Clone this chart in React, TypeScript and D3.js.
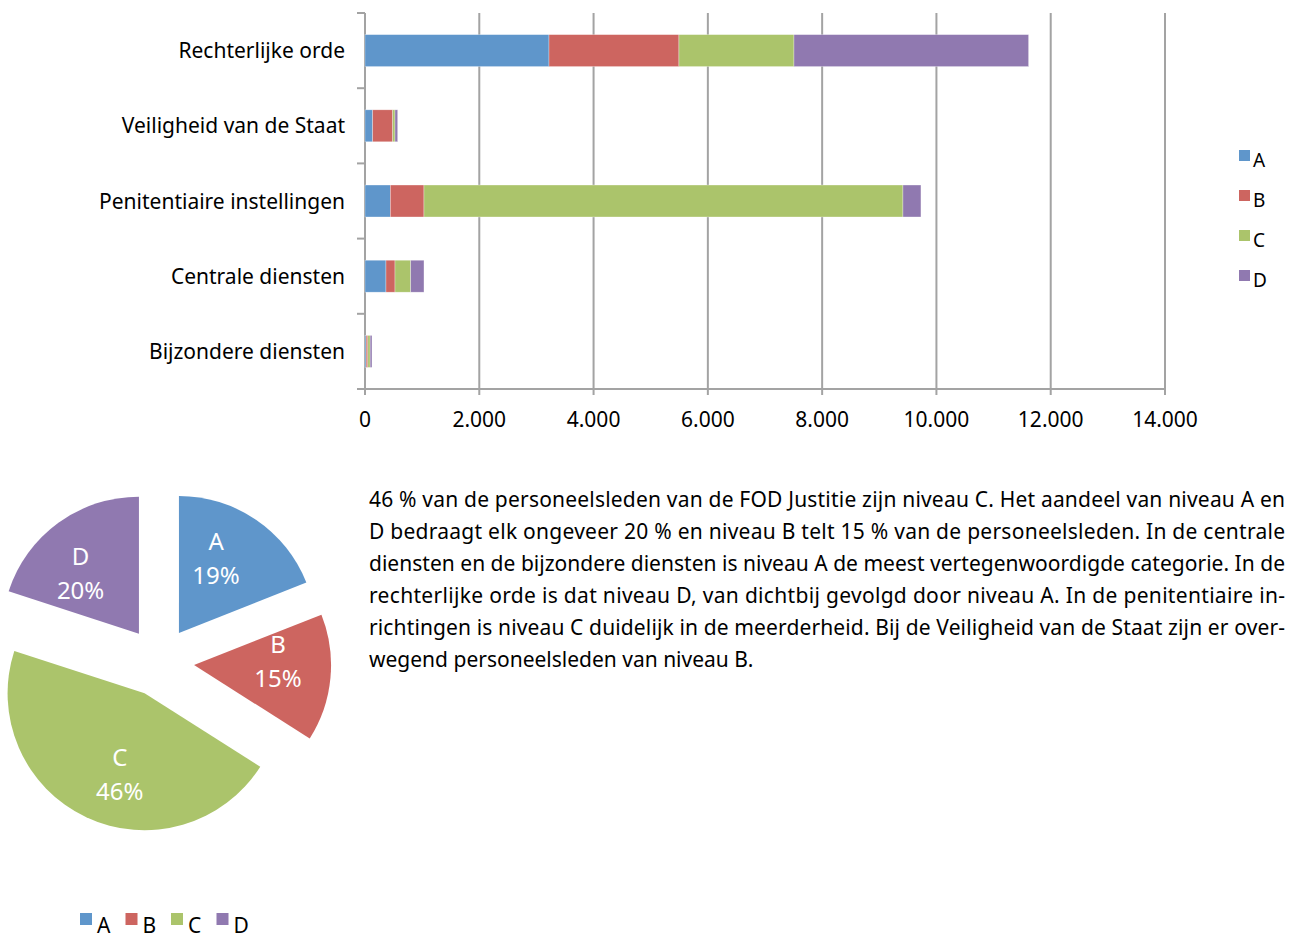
import React from "react";
import * as d3 from "d3";

const categories = [
  "Rechterlijke orde",
  "Veiligheid van de Staat",
  "Penitentiaire instellingen",
  "Centrale diensten",
  "Bijzondere diensten",
];
const levels = ["A", "B", "C", "D"];
const seriesA = [3220, 135, 443, 367, 20];
const seriesB = [2274, 350, 589, 158, 30];
const seriesC = [2013, 40, 8382, 275, 40];
const seriesD = [4106, 47, 315, 232, 32];
const xTicks = [0, 2000, 4000, 6000, 8000, 10000, 12000, 14000];
const pieValues = [19, 15, 46, 20];
const colors = ["#5f96cb", "#cd6560", "#abc46b", "#9079b0"];
const paragraph = [
  "46 % van de personeelsleden van de FOD Justitie zijn niveau C. Het aandeel van niveau A en",
  "D bedraagt elk ongeveer 20 % en niveau B telt 15 % van de personeelsleden. In de centrale",
  "diensten en de bijzondere diensten is niveau A de meest vertegenwoordigde categorie. In de",
  "rechterlijke orde is dat niveau D, van dichtbij gevolgd door niveau A. In de penitentiaire in-",
  "richtingen is niveau C duidelijk in de meerderheid. Bij de Veiligheid van de Staat zijn er over-",
  "wegend personeelsleden van niveau B.",
];

const FONT = "'Noto Sans', 'Open Sans', sans-serif";
const W = 1298;
const H = 938;

export default function App() {
  const x = d3.scaleLinear().domain([0, 14000]).range([365, 1165]);
  const y = d3
    .scaleBand<string>()
    .domain(categories)
    .range([13, 389])
    .paddingInner(0.575)
    .paddingOuter(0.2875);

  const rows = categories.map((c, i) => ({
    cat: c,
    A: seriesA[i],
    B: seriesB[i],
    C: seriesC[i],
    D: seriesD[i],
  }));
  const stacked = d3.stack<any>().keys(levels)(rows);

  const fmt = (v: number) => d3.format(",")(v).replace(/,/g, ".");

  // pie
  const cx = 159.4;
  const cy = 661.8;
  const R = 137;
  const explode = 34.8;
  const pie = d3
    .pie<number>()
    .sort(null)
    .startAngle(0)
    .endAngle(2 * Math.PI)(pieValues);
  const arc = d3.arc<any>().innerRadius(0).outerRadius(R);

  const tickYs = d3.range(categories.length + 1).map((i) => 13 + (i * 376) / categories.length);

  return (
    <svg
      width={W}
      height={H}
      style={{ position: "absolute", left: 0, top: 0, background: "#fff" }}
      fontFamily={FONT}
    >
      {/* gridlines */}
      {xTicks.map((t) => (
        <line
          key={"g" + t}
          x1={x(t)}
          x2={x(t)}
          y1={13}
          y2={395}
          stroke="#a3a3a3"
          strokeWidth={2}
        />
      ))}
      {/* x axis line */}
      <line x1={357} x2={1166} y1={389} y2={389} stroke="#a3a3a3" strokeWidth={2} />
      {/* y ticks */}
      {tickYs.map((ty, i) => (
        <line key={"yt" + i} x1={357} x2={365} y1={ty} y2={ty} stroke="#a3a3a3" strokeWidth={2} />
      ))}
      {/* bars */}
      {stacked.map((s, si) =>
        s.map((d: any, i: number) => (
          <rect
            key={si + "-" + i}
            x={x(d[0])}
            y={y(categories[i])}
            width={Math.max(0, x(d[1]) - x(d[0]))}
            height={y.bandwidth()}
            fill={colors[si]}
            stroke="#ffffff"
            strokeOpacity={0.5}
            strokeWidth={0.6}
          />
        ))
      )}
      {/* category labels */}
      {categories.map((c) => (
        <text
          key={c}
          x={345}
          y={(y(c) as number) + y.bandwidth() / 2}
          dy="0.36em"
          textAnchor="end"
          fontSize={21}
          fill="#000"
        >
          {c}
        </text>
      ))}
      {/* x tick labels */}
      {xTicks.map((t) => (
        <text key={"xl" + t} x={x(t)} y={427} textAnchor="middle" fontSize={21} fill="#000">
          {fmt(t)}
        </text>
      ))}
      {/* right legend */}
      {levels.map((l, i) => (
        <g key={"lg" + l} transform={`translate(1239, ${150 + i * 40})`}>
          <rect x={0} y={0} width={11} height={11} fill={colors[i]} />
          <text x={14} y={17} fontSize={19} fill="#000">
            {l}
          </text>
        </g>
      ))}

      {/* pie */}
      {pie.map((p, i) => {
        const mid = (p.startAngle + p.endAngle) / 2;
        const ox = cx + explode * Math.sin(mid);
        const oy = cy - explode * Math.cos(mid);
        const la = mid - (8 * Math.PI) / 180;
        const lr = 84;
        const lx = ox + lr * Math.sin(la);
        const ly = oy - lr * Math.cos(la);
        return (
          <g key={"p" + i}>
            <path d={arc(p) as string} transform={`translate(${ox},${oy})`} fill={colors[i]} />
            <text x={lx} y={ly - 8} textAnchor="middle" fontSize={24} fill="#fff">
              {levels[i]}
            </text>
            <text x={lx} y={ly + 26} textAnchor="middle" fontSize={24} fill="#fff">
              {Math.round(p.data) + "%"}
            </text>
          </g>
        );
      })}
      {/* pie legend */}
      {levels.map((l, i) => (
        <g key={"pl" + l} transform={`translate(${80 + i * 45.5}, 913)`}>
          <rect x={0} y={0} width={12} height={12} fill={colors[i]} />
          <text x={17} y={20} fontSize={21} fill="#000">
            {l}
          </text>
        </g>
      ))}

      {/* paragraph */}
      {paragraph.map((line, i) => (
        <text
          key={"t" + i}
          x={369}
          y={507 + i * 32}
          fontSize={21}
          fill="#000"
          {...(i < paragraph.length - 1
            ? { textLength: 916, lengthAdjust: "spacing" }
            : {})}
        >
          {line}
        </text>
      ))}
    </svg>
  );
}
